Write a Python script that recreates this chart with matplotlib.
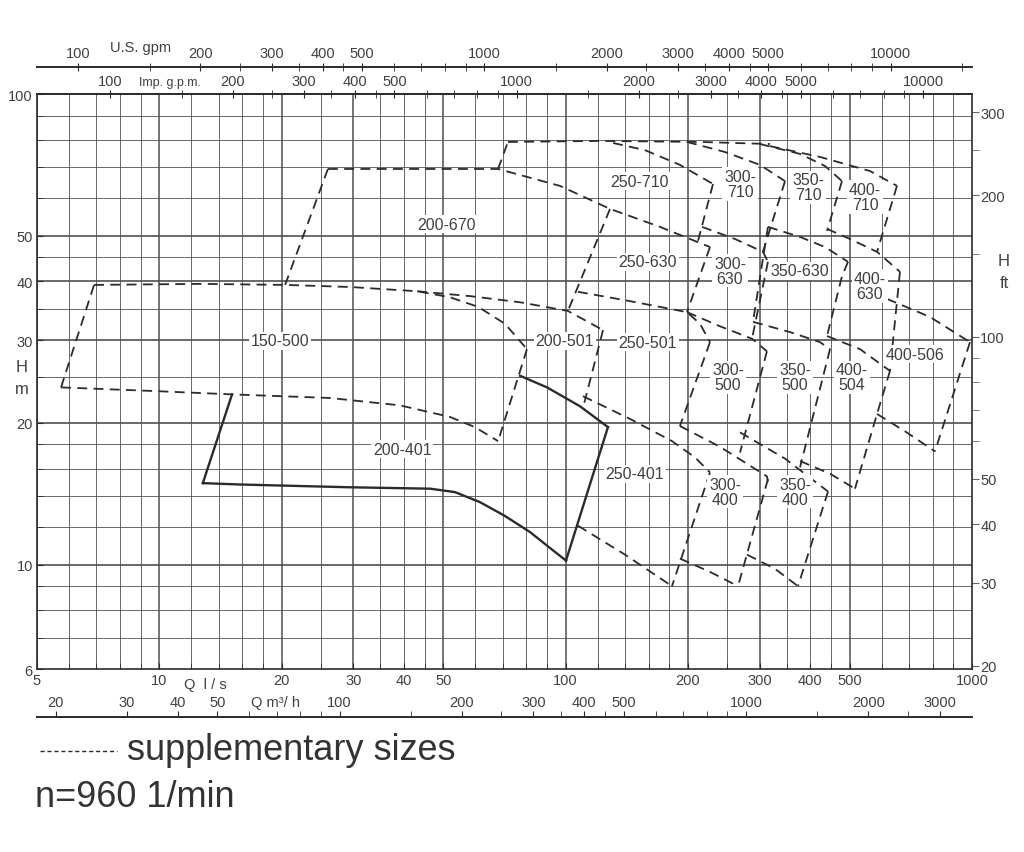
import matplotlib
matplotlib.use("Agg")
import matplotlib.pyplot as plt
from matplotlib.lines import Line2D
from matplotlib.ticker import FixedLocator, NullFormatter

plt.rcParams['font.family'] = ['Liberation Sans', 'DejaVu Sans']

# grid lines (Q in l/s, H in m)
q_grid = [5, 6, 7, 8, 9, 10, 12, 14, 16, 18, 20, 25, 30, 35, 40, 45, 50, 60, 70, 80, 90,
          100, 120, 140, 160, 180, 200, 250, 300, 350, 400, 450, 500, 600, 700, 800, 900, 1000]
q_major = [10, 20, 30, 50, 100, 200, 300, 500]
h_grid = [6, 7, 8, 9, 10, 12, 14, 16, 18, 20, 25, 30, 35, 40, 45, 50, 60, 70, 80, 90, 100]
h_major = [10, 20, 30, 40, 50]

# axis ticks
q_ticks = [5, 10, 20, 30, 40, 50, 100, 200, 300, 400, 500, 1000]
h_ticks = [6, 10, 20, 30, 40, 50, 100]
m3h_ticks = [20, 30, 40, 50, 100, 200, 300, 400, 500, 1000, 2000, 3000]
m3h_minor = [60, 70, 80, 90, 150, 250, 350, 450, 600, 700, 800, 900, 1500, 2500]
us_ticks = [100, 200, 300, 400, 500, 1000, 2000, 3000, 4000, 5000, 10000]
us_minor = [150, 250, 350, 450, 600, 700, 800, 900, 1500, 2500, 3500, 4500, 6000, 7000, 8000, 9000, 15000]
imp_ticks = [100, 200, 300, 400, 500, 1000, 2000, 3000, 4000, 5000, 10000]
imp_minor = [150, 250, 350, 450, 600, 700, 800, 900, 1500, 2500, 3500, 4500, 6000, 7000, 8000, 9000]
ft_ticks = [20, 30, 40, 50, 100, 200, 300]
ft_minor = [60, 70, 80, 90, 150, 250]

# pump ranges: each edge is (Q l/s, H m)
r150_500 = [
    ([5.73, 6.91], [23.8, 39.3]),
    ([6.91, 12.6, 20.4, 29.5, 43.1, 51.9, 60.9, 70.9, 80.3],
     [39.3, 39.5, 39.3, 38.9, 38.1, 37.0, 35.3, 32.5, 28.7]),
    ([80.3, 68.2], [28.7, 18.3]),
    ([5.73, 9.49, 15.1, 26.3, 39.1, 51.9, 59.8, 68.2],
     [23.8, 23.4, 23.0, 22.6, 21.8, 20.6, 19.6, 18.3]),
]
r200_670 = [
    ([20.4, 26.0], [39.3, 69.3]),
    ([26.0, 43.8, 68.2, 96.8, 128.6, 170.7, 226.6], [69.3, 69.3, 69.3, 63.8, 57.0, 52.2, 47.3]),
    ([43.1, 58.2, 77.2, 101.3, 123.6], [38.1, 37.2, 36.1, 34.6, 31.5]),
    ([128.6, 101.3], [57.0, 34.6]),
]
r200_501 = [
    ([123.6, 110.9], [31.5, 21.9]),
]
r200_401 = [
    ([12.8, 15.1], [14.9, 23.0]),
    ([77.2, 90.0, 108.5, 127.1], [25.2, 23.8, 21.7, 19.6]),
    ([127.1, 100.2], [19.6, 10.2]),
    ([12.8, 15.8, 29.5, 46.4, 53.4, 61.5, 70.9, 81.7, 91.5, 100.2],
     [14.9, 14.8, 14.6, 14.5, 14.26, 13.58, 12.69, 11.73, 10.85, 10.2]),
]
r250_710 = [
    ([68.2, 72.1], [69.3, 79.1]),
    ([72.1, 121.5, 214.1, 318.3], [79.1, 79.5, 79.1, 78.3]),
    ([130.8, 156.7, 191.1, 230.5], [78.7, 76.0, 70.7, 64.4]),
    ([230.5, 211.7], [64.4, 48.7]),
]
r300_710 = [
    ([198.9, 246.7, 300.8, 346.6], [79.1, 75.3, 70.7, 65.3]),
    ([346.6, 305.9], [65.3, 46.2]),
    ([216.6, 261.1, 305.9, 314.7], [52.2, 49.2, 46.2, 44.0]),
]
r350_710 = [
    ([300.8, 377.4, 434.9, 478.7], [78.3, 74.6, 70.3, 65.3]),
    ([478.7, 439.8], [65.3, 51.2]),
    ([314.7, 377.4, 434.9, 495.3], [52.2, 49.7, 47.3, 44.0]),
]
r400_710 = [
    ([318.3, 422.7, 561.2, 653.7], [77.5, 73.5, 68.6, 63.8]),
    ([653.7, 583.9], [63.8, 46.2]),
    ([439.8, 500.9, 583.9, 664.9], [51.7, 49.2, 46.2, 41.9]),
]
r250_630 = [
    ([226.6, 198.9], [47.3, 34.4]),
    ([107.2, 144.0, 198.9, 214.1, 226.6], [38.0, 36.3, 34.4, 32.5, 29.7]),
]
r300_630 = [
    ([314.7, 287.5], [44.0, 30.2]),
    ([198.9, 239.8, 287.5, 312.9], [34.4, 32.1, 30.2, 28.4]),
]
r350_630 = [
    ([314.7, 289.1], [52.2, 32.8]),
    ([495.3, 478.7, 439.8], [44.0, 41.0, 30.6]),
    ([289.1, 356.6, 422.7, 447.4], [32.8, 31.2, 29.7, 28.7]),
]
r400_630 = [
    ([664.9, 628.3], [41.9, 25.8]),
    ([439.8, 530.2, 628.3], [30.6, 28.7, 25.8]),
]
r250_501 = [
    ([226.6, 191.1], [29.7, 19.7]),
]
r300_500 = [
    ([312.9, 268.6], [28.4, 17.3]),
    ([191.1, 239.8, 312.9, 314.7], [19.7, 17.8, 15.4, 15.0]),
]
r350_500 = [
    ([447.4, 377.4], [28.7, 16.1]),
    ([268.6, 346.6, 442.3], [19.1, 16.8, 14.3]),
]
r400_504 = [
    ([628.3, 583.9, 515.3], [25.8, 20.9, 14.5]),
    ([377.4, 447.4, 515.3], [16.6, 15.6, 14.5]),
]
r400_506 = [
    ([617.8, 788.2, 988.7], [36.7, 33.6, 29.7]),
    ([988.7, 810.9], [29.7, 17.4]),
    ([583.9, 684.0, 810.9], [20.9, 19.2, 17.4]),
]
r250_401 = [
    ([110.3, 144.0, 182.7, 208.1, 226.6], [22.8, 20.4, 18.3, 16.9, 15.7]),
    ([226.6, 182.7], [15.7, 9.0]),
    ([107.2, 140.0, 182.7], [12.1, 10.5, 9.0]),
]
r300_400 = [
    ([314.7, 265.6], [15.2, 9.0]),
    ([191.1, 226.6, 265.6], [10.3, 9.65, 9.0]),
]
r350_400 = [
    ([442.3, 373.1], [14.3, 9.0]),
    ([279.5, 327.4, 373.1], [10.5, 9.8, 9.0]),
]

dashed_ranges = [r150_500, r200_670, r200_501, r250_710, r300_710, r350_710, r400_710,
                 r250_630, r300_630, r350_630, r400_630, r250_501, r300_500, r350_500,
                 r400_504, r400_506, r250_401, r300_400, r350_400]
solid_ranges = [r200_401]

size_labels = ["150-500", "200-670", "200-401", "200-501", "250-501", "250-401",
               "250-710", "250-630", "300-\n710", "350-\n710", "400-\n710",
               "300-\n630", "350-630", "400-\n630", "300-\n500", "350-\n500",
               "400-\n504", "400-506", "300-\n400", "350-\n400"]
label_q = [19.8, 51.0, 39.6, 99.6, 159.4, 148.1, 152.4, 159.4, 268.6, 394.8, 545.3,
           253.8, 377.4, 561.2, 250.9, 366.8, 506.6, 724.0, 246.7, 366.8]
label_h = [29.9, 52.9, 17.6, 29.9, 29.7, 15.6, 65.3, 44.0, 64.4, 63.4, 60.4,
           42.1, 42.1, 39.1, 25.0, 25.0, 25.0, 28.0, 14.3, 14.3]

ink = '#2b2b2b'
txt = '#404040'
tsize = 10.5

fig = plt.figure(figsize=(10.24, 8.53), dpi=100)
ax = fig.add_axes([0.0361, 0.2145, 0.9131, 0.6741])
ax.set_xscale('log')
ax.set_yscale('log')
ax.set_xlim(5, 1000)
ax.set_ylim(6, 100)

for v in q_grid:
    ax.axvline(v, color='#505050', lw=1.1 if v in q_major else 0.6, zorder=1)
for v in h_grid:
    ax.axhline(v, color='#505050', lw=1.2 if v in h_major else 0.6, zorder=1)

for rng in dashed_ranges:
    for q, h in rng:
        ax.plot(q, h, color=ink, lw=1.3, ls=(0, (5.5, 3.5)), zorder=3)
for rng in solid_ranges:
    for q, h in rng:
        ax.plot(q, h, color=ink, lw=1.7, zorder=3, solid_joinstyle='round')

for s, q, h in zip(size_labels, label_q, label_h):
    ax.text(q, h, s, ha='center', va='center', fontsize=11.5, color=txt, linespacing=1.0,
            zorder=4, bbox=dict(boxstyle='square,pad=0.1', fc='white', ec='none'))

for sp in ax.spines.values():
    sp.set_color(ink)
    sp.set_linewidth(1.2)

# main axes: Q l/s bottom, H m left
ax.set_xticks(q_ticks, [str(v) for v in q_ticks])
ax.xaxis.set_minor_locator(FixedLocator(q_grid))
ax.xaxis.set_minor_formatter(NullFormatter())
ax.set_yticks(h_ticks, [str(v) for v in h_ticks])
ax.yaxis.set_minor_locator(FixedLocator(h_grid))
ax.yaxis.set_minor_formatter(NullFormatter())
ax.tick_params(which='both', direction='in', length=4, color=ink, labelsize=tsize,
               labelcolor=txt, pad=3, top=False, right=False)

# imperial gpm along the top spine
ax_imp = ax.secondary_xaxis('top', functions=(lambda q: q * 13.198, lambda g: g / 13.198))
ax_imp.set_xticks(imp_ticks, [str(v) for v in imp_ticks])
ax_imp.xaxis.set_minor_locator(FixedLocator(imp_minor))
ax_imp.xaxis.set_minor_formatter(NullFormatter())
ax_imp.tick_params(which='both', direction='inout', length=6, color=ink, labelsize=tsize,
                   labelcolor=txt, pad=1)
ax_imp.spines['top'].set_linewidth(1.2)

# US gpm above
ax_us = ax.secondary_xaxis(1.047, functions=(lambda q: q * 15.850, lambda g: g / 15.850))
ax_us.set_xticks(us_ticks, [str(v) for v in us_ticks])
ax_us.xaxis.set_minor_locator(FixedLocator(us_minor))
ax_us.xaxis.set_minor_formatter(NullFormatter())
ax_us.tick_params(which='both', direction='inout', length=6, color=ink, labelsize=tsize,
                  labelcolor=txt, pad=2)
ax_us.spines['top'].set_linewidth(1.4)
ax_us.spines['top'].set_color(ink)

# m3/h below, labels above its line
ax_m3 = ax.secondary_xaxis(-0.0835, functions=(lambda q: q * 3.6, lambda m: m / 3.6))
ax_m3.set_alignment('top')
ax_m3.set_xticks(m3h_ticks, [str(v) for v in m3h_ticks])
ax_m3.xaxis.set_minor_locator(FixedLocator(m3h_minor))
ax_m3.xaxis.set_minor_formatter(NullFormatter())
ax_m3.tick_params(which='both', direction='out', length=4, color=ink, labelsize=tsize,
                  labelcolor=txt, pad=2)
ax_m3.spines['top'].set_linewidth(1.4)
ax_m3.spines['top'].set_color(ink)

# feet on the right
ax_ft = ax.secondary_yaxis('right', functions=(lambda m: m * 3.2808, lambda f: f / 3.2808))
ax_ft.set_yticks(ft_ticks, [str(v) for v in ft_ticks])
ax_ft.yaxis.set_minor_locator(FixedLocator(ft_minor))
ax_ft.yaxis.set_minor_formatter(NullFormatter())
ax_ft.tick_params(which='both', direction='out', length=5, color='#666666', labelsize=tsize,
                  labelcolor=txt, pad=1)
ax_ft.spines['right'].set_visible(False)

# axis captions
ax.text(13.0, -0.026, "Q  l / s", transform=ax.get_xaxis_transform(), ha='center',
        va='center', fontsize=tsize, color=txt)
ax.text(19.3, -0.057, "Q m³/ h", transform=ax.get_xaxis_transform(), ha='center',
        va='center', fontsize=tsize, color=txt)
ax.text(9.0, 1.082, "U.S. gpm", transform=ax.get_xaxis_transform(), ha='center',
        va='center', fontsize=tsize, color=txt)
ax.text(10.6, 1.021, "Imp. g.p.m.", transform=ax.get_xaxis_transform(), ha='center',
        va='center', fontsize=9, color=txt)
fig.text(22 / 1024, 1 - 368 / 853, "H", ha='center', va='center', fontsize=12, color=txt)
fig.text(22 / 1024, 1 - 390 / 853, "m", ha='center', va='center', fontsize=12, color=txt)
fig.text(1004 / 1024, 1 - 262 / 853, "H", ha='center', va='center', fontsize=12, color=txt)
fig.text(1004 / 1024, 1 - 283 / 853, "ft", ha='center', va='center', fontsize=12, color=txt)

# legend notes
fig.add_artist(Line2D([40 / 1024, 117 / 1024], [1 - 752 / 853, 1 - 752 / 853],
                      transform=fig.transFigure, color=ink, lw=1.0, ls=(0, (3, 2))))
fig.text(127 / 1024, 1 - 750 / 853, "supplementary sizes", ha='left', va='center',
         fontsize=26, color='#333333')
fig.text(35 / 1024, 1 - 798 / 853, "n=960 1/min", ha='left', va='center',
         fontsize=26, color='#333333')

fig.savefig("out.png", dpi=100, facecolor='white')
